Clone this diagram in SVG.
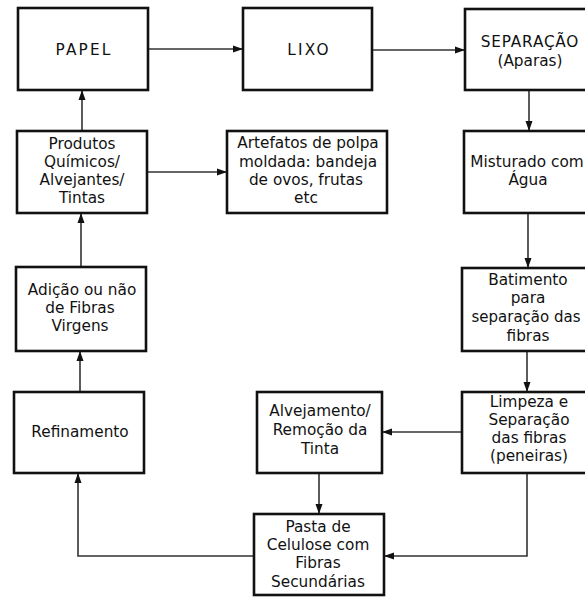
<svg xmlns="http://www.w3.org/2000/svg" width="585" height="597" viewBox="0 0 585 597">
<defs>
<marker id="ah" markerWidth="11" markerHeight="8" refX="10" refY="4" orient="auto" markerUnits="userSpaceOnUse">
<path d="M0,0.5 L10,4 L0,7.5 Z" fill="#111"/>
</marker>
<style>
rect.b{fill:#fff;stroke:#111;stroke-width:2.6}
text{font-family:"DejaVu Sans","Liberation Sans",sans-serif;font-size:15.3px;fill:#111;text-anchor:middle}
text.caps{letter-spacing:2.2px}
.c path{fill:none;stroke:#333;stroke-width:1.6;marker-end:url(#ah)}
</style>
</defs>
<rect width="585" height="597" fill="#fff"/>
<g class="c" id="connectors">
<path d="M148,49 L243,49"/>
<path d="M372,50 L465,50"/>
<path d="M529,90 L529,131"/>
<path d="M528,213 L528,268"/>
<path d="M527,351 L527,392"/>
<path d="M462,432 L382,432"/>
<path d="M319,473 L319,514"/>
<path d="M527,473 L527,556 L384,556"/>
<path d="M254,556 L78,556 L78,473"/>
<path d="M80,392 L80,351"/>
<path d="M81,267 L81,213"/>
<path d="M82,131 L82,90"/>
<path d="M147,172 L227,172"/>
</g>
<g id="papel"><rect class="b" x="18" y="8" width="130" height="82"/><text class="caps" x="84" y="55">PAPEL</text></g>
<g id="lixo"><rect class="b" x="243" y="8" width="129" height="82"/><text class="caps" x="309" y="55">LIXO</text></g>
<g id="separacao"><rect class="b" x="465" y="9" width="131" height="81"/><text x="530" y="47" style="letter-spacing:0.8px">SEPARAÇÃO</text><text x="530" y="66">(Aparas)</text></g>
<g id="produtos"><rect class="b" x="17" y="131" width="130" height="82"/><text x="82" y="149">Produtos</text><text x="82" y="167">Químicos/</text><text x="82" y="185">Alvejantes/</text><text x="82" y="203">Tintas</text></g>
<g id="artefatos"><rect class="b" x="227" y="131" width="160" height="82"/><text x="308" y="148">Artefatos de polpa</text><text x="308" y="167">moldada: bandeja</text><text x="306" y="185">de ovos, frutas</text><text x="306" y="203">etc</text></g>
<g id="misturado"><rect class="b" x="464" y="131" width="131" height="82"/><text x="527" y="167">Misturado com</text><text x="528" y="185">Água</text></g>
<g id="adicao"><rect class="b" x="16" y="267" width="130" height="84"/><text x="82" y="295">Adição ou não</text><text x="80" y="313">de Fibras</text><text x="80" y="331">Virgens</text></g>
<g id="batimento"><rect class="b" x="462" y="268" width="133" height="83"/><text x="528" y="285">Batimento</text><text x="528" y="303">para</text><text x="526" y="322" style="font-size:15px">separação das</text><text x="528" y="341">fibras</text></g>
<g id="refinamento"><rect class="b" x="14" y="392" width="130" height="81"/><text x="80" y="437">Refinamento</text></g>
<g id="alvejamento"><rect class="b" x="257" y="392" width="125" height="81"/><text x="320" y="416">Alvejamento/</text><text x="320" y="435">Remoção da</text><text x="320" y="454">Tinta</text></g>
<g id="limpeza"><rect class="b" x="462" y="392" width="133" height="81"/><text x="529" y="407">Limpeza e</text><text x="529" y="425">Separação</text><text x="529" y="443">das fibras</text><text x="529" y="461">(peneiras)</text></g>
<g id="pasta"><rect class="b" x="254" y="514" width="130" height="81"/><text x="318" y="532">Pasta de</text><text x="318" y="550">Celulose com</text><text x="318" y="568">Fibras</text><text x="318" y="587">Secundárias</text></g>
</svg>
